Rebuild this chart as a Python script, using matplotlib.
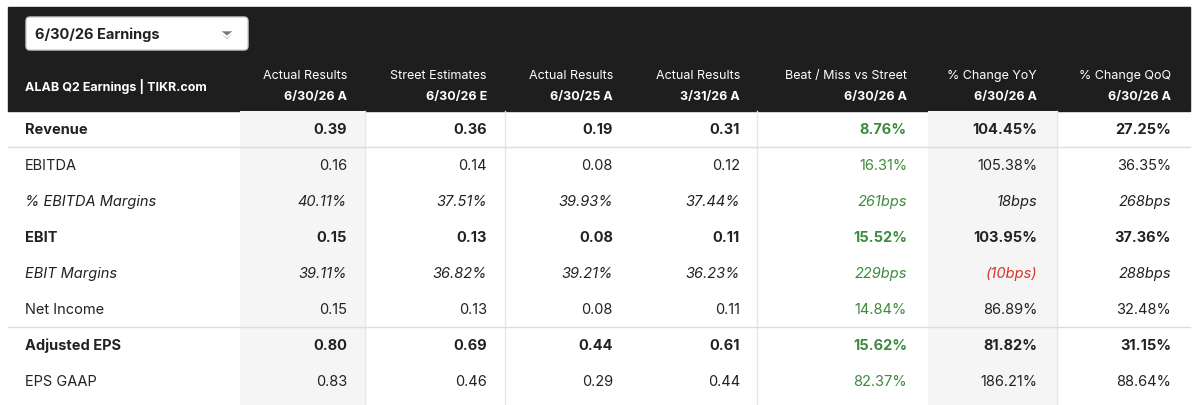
import matplotlib.pyplot as plt
from matplotlib.patches import Rectangle, FancyBboxPatch

plt.rcParams['font.family'] = ['Inter', 'DejaVu Sans']

col_heads = ["Actual Results", "Street Estimates", "Actual Results", "Actual Results",
             "Beat / Miss vs Street", "% Change YoY", "% Change QoQ"]
col_dates = ["6/30/26 A", "6/30/26 E", "6/30/25 A", "3/31/26 A", "6/30/26 A", "6/30/26 A", "6/30/26 A"]
row_labels = ["Revenue", "EBITDA", "% EBITDA Margins", "EBIT", "EBIT Margins",
              "Net Income", "Adjusted EPS", "EPS GAAP"]
values = [
    ["0.39", "0.36", "0.19", "0.31", "8.76%", "104.45%", "27.25%"],
    ["0.16", "0.14", "0.08", "0.12", "16.31%", "105.38%", "36.35%"],
    ["40.11%", "37.51%", "39.93%", "37.44%", "261bps", "18bps", "268bps"],
    ["0.15", "0.13", "0.08", "0.11", "15.52%", "103.95%", "37.36%"],
    ["39.11%", "36.82%", "39.21%", "36.23%", "229bps", "(10bps)", "288bps"],
    ["0.15", "0.13", "0.08", "0.11", "14.84%", "86.89%", "32.48%"],
    ["0.80", "0.69", "0.44", "0.61", "15.62%", "81.82%", "31.15%"],
    ["0.83", "0.46", "0.29", "0.44", "82.37%", "186.21%", "88.64%"],
]
bold_rows = [0, 3, 6]
italic_rows = [2, 4]

fig = plt.figure(figsize=(11.98, 4.06), dpi=100)
ax = fig.add_axes([0, 0, 1, 1])
ax.set_xlim(0, 1198)
ax.set_ylim(406, 0)
ax.axis('off')

# header band
ax.add_patch(Rectangle((8, 8), 1182, 104, color='#1e1e1e'))
ax.add_patch(FancyBboxPatch((26, 18), 222, 33, boxstyle="round,pad=0,rounding_size=4",
                            fc='white', ec='#cccccc'))
ax.text(35, 35, "6/30/26 Earnings", fontsize=10.5, fontweight='bold', va='center', color='#222')
ax.plot([221, 227, 233], [33, 38, 33], color='white')
ax.fill([221, 233, 227], [33, 33, 39], color='#777')
ax.text(25, 87, "ALAB Q2 Earnings | TIKR.com", fontsize=9, fontweight='bold', color='white', va='center')

right_edges = [347, 487, 613, 740, 907, 1037, 1171]
for x, h, d in zip(right_edges, col_heads, col_dates):
    ax.text(x, 76, h, fontsize=9, color='white', ha='right', va='center')
    ax.text(x, 97, d, fontsize=9, color='white', fontweight='bold', ha='right', va='center')

# shaded columns
ax.add_patch(Rectangle((240, 112), 125, 294, color='#f5f5f5', lw=0))
ax.add_patch(Rectangle((928, 112), 129, 294, color='#f5f5f5', lw=0))
for x in [365, 505, 757, 1057]:
    ax.plot([x, x], [112, 406], color='#e6e6e6', lw=1)
for y in [148, 328]:
    ax.plot([8, 1190], [y, y], color='#dddddd', lw=1)

green = '#3d8b3d'
red = '#d9342b'
for i, (lab, row) in enumerate(zip(row_labels, values)):
    y = 130 + i * 36
    w = 'bold' if i in bold_rows else 'normal'
    st = 'italic' if i in italic_rows else 'normal'
    ax.text(25, y, lab, fontsize=10.5, fontweight=w, style=st, va='center', color='#222')
    for j, (x, v) in enumerate(zip(right_edges, row)):
        c = '#222'
        if j == 4:
            c = green
        if v.startswith('('):
            c = red
        ax.text(x, y, v, fontsize=10.5, fontweight=w, style=st, ha='right', va='center', color=c)

fig.savefig('out.png', dpi=100, facecolor='white')
